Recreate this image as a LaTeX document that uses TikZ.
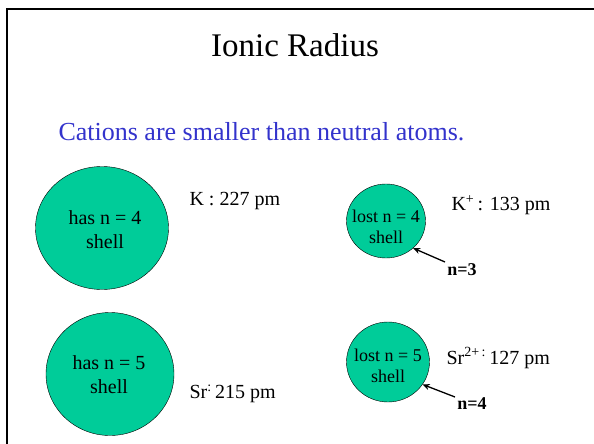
\documentclass[tikz,border=0pt]{standalone}
\usepackage{fontspec}
\setmainfont{Liberation Serif}
\usepackage{xcolor}
\usetikzlibrary{arrows.meta, shapes.geometric, positioning}
\definecolor{atomgreen}{RGB}{0,204,153}
\definecolor{slideblue}{RGB}{51,51,204}
\tikzset{
  atom/.style={ellipse, draw=black, thin, fill=atomgreen, inner sep=0pt},
  bigshell/.style={align=center, font=\fontsize{20}{24}\selectfont},
  smallshell/.style={align=center, font=\fontsize{18}{21}\selectfont},
  datum/.style={anchor=west, font=\fontsize{20}{24}\selectfont},
  shelllabel/.style={font=\fontsize{18}{21}\selectfont\bfseries},
  pointer/.style={-{Stealth[length=7pt, width=6pt]}, line width=1.3pt},
}

\begin{document}
\begin{tikzpicture}[x=1pt, y=-1pt]
      \useasboundingbox (0,0) rectangle (594,444);
      % slide frame
      \draw[line width=2pt] (7,444) -- (7,9) -- (594,9);

      % heading
      \node[font=\fontsize{33}{36}\selectfont] (title) at (295,45) {Ionic Radius};
      \node[slideblue, anchor=west, font=\fontsize{26}{30}\selectfont] (claim) at (55,132) {Cations are smaller than neutral atoms.};

      % neutral atoms
      \node[atom, minimum width=133pt, minimum height=123pt] (katom) at (102,228) {};
      \node[bigshell] (ktext) at (105,230) {has n = 4\\shell};
      \node[atom, minimum width=128pt, minimum height=123pt] (sratom) at (110,374) {};
      \node[bigshell] (srtext) at (109,375) {has n = 5\\shell};
      \node[datum] (kdata) at (186,201) {K : 227 pm};
      \node[datum] (srdata) at (186,394) {Sr\textsuperscript{:}\,215 pm};

      % cations
      \node[atom, minimum width=79pt, minimum height=74pt] (kion) at (386,221) {};
      \node[smallshell] (kiontext) at (386,227) {lost n = 4\\shell};
      \node[atom, minimum width=83pt, minimum height=80pt] (srion) at (388,362) {};
      \node[smallshell] (sriontext) at (388,366) {lost n = 5\\shell};
      \node[datum] (kiondata) at (448,205) {K\textsuperscript{+}\,: 133 pm};
      \node[datum] (sriondata) at (443,358) {Sr\textsuperscript{2+\,:}\,127 pm};

      % remaining shells
      \node[shelllabel] (nthree) at (462,270) {n=3};
      \node[shelllabel] (nfour) at (472,404) {n=4};
      \coordinate (nthreetail) at (445,262);
      \coordinate (nfourtail) at (455,397);
      \draw[pointer] (nthreetail) -- (kion.-45);
      \draw[pointer] (nfourtail) -- (srion.-33);
\end{tikzpicture}
\end{document}
